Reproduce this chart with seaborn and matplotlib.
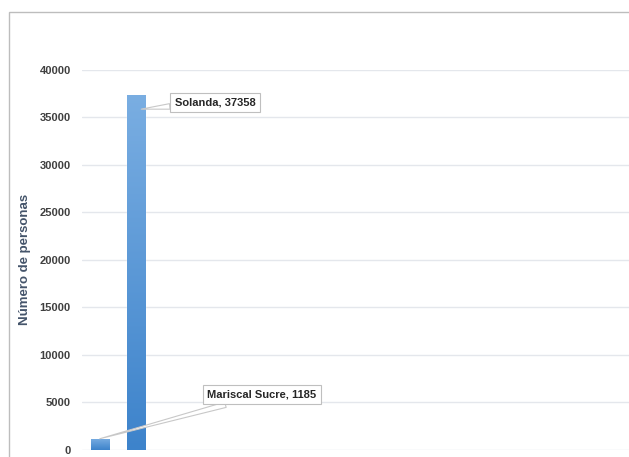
import numpy as np
import pandas as pd
import matplotlib
matplotlib.use("Agg")
import matplotlib.pyplot as plt
import seaborn as sns
from matplotlib.patches import Rectangle

# datos
categorias = ["Mariscal Sucre", "Solanda"]
personas = [1185, 37358]
yticks = [0, 5000, 10000, 15000, 20000, 25000, 30000, 35000, 40000]

df = pd.DataFrame({"barrio": categorias, "personas": personas})

sns.set_theme(style="white")
plt.rcParams['font.family'] = ['Liberation Sans', 'DejaVu Sans']

fig = plt.figure(figsize=(6.29, 4.57), dpi=100)
ax = fig.add_axes([0.130, 0.0153, 0.87, 0.832])

sns.barplot(data=df, x="barrio", y="personas", color="#4a8fd4",
            width=0.5, ax=ax, zorder=3)

# degradado en las barras
grad = np.linspace(0, 1, 256).reshape(-1, 1)
cmap = matplotlib.colors.LinearSegmentedColormap.from_list("g", ["#3d83cb", "#7aaee2"])
for p in ax.patches:
    x0, y0 = p.get_x(), p.get_y()
    w, h = p.get_width(), p.get_height()
    im = ax.imshow(grad, cmap=cmap, aspect="auto", origin="lower",
                   extent=[x0, x0 + w, y0, y0 + h], zorder=4)
    im.set_clip_path(p)

ax.set_xlim(-0.5, 14.7)
ax.set_ylim(0, 40000)
ax.set_yticks(yticks)
ax.set_yticklabels([str(t) for t in yticks], fontsize=8, fontweight="bold", color="#404040")
ax.tick_params(axis="y", length=0, pad=8)
ax.set_xticks([])
ax.set_xlabel("")
ax.set_ylabel("Número de personas", fontsize=9.5, fontweight="bold", color="#44546A", labelpad=6)
ax.yaxis.grid(True, color="#e4e7ec", linewidth=1, zorder=0)
ax.set_axisbelow(True)
sns.despine(ax=ax, left=True, bottom=True)

# etiquetas tipo llamada
box = dict(boxstyle="square,pad=0.4", fc="white", ec="#bfbfbf", lw=0.8)
wedge = dict(arrowstyle="wedge,tail_width=0.5", fc="white", ec="#c8c8c8", lw=0.8,
             shrinkA=0, shrinkB=0)
ax.annotate(f"{categorias[0]}, {personas[0]}", xy=(0, personas[0]), xytext=(4.5, 5800),
            fontsize=8, fontweight="bold", color="#262626", bbox=box,
            arrowprops=wedge, ha="center", va="center", zorder=6)
ax.annotate(f"{categorias[1]}, {personas[1]}", xy=(1.15, personas[1] - 1500), xytext=(3.2, 36600),
            fontsize=8, fontweight="bold", color="#262626", bbox=box,
            arrowprops=wedge, ha="center", va="center", zorder=6)

# marco del grafico
fig.patches.append(Rectangle((9 / 629, -0.05), 1.2, 1 - 12 / 457 + 0.05,
                             transform=fig.transFigure, fill=False,
                             ec="#bdbdbd", lw=1.0))

fig.savefig("out.png", dpi=100)
